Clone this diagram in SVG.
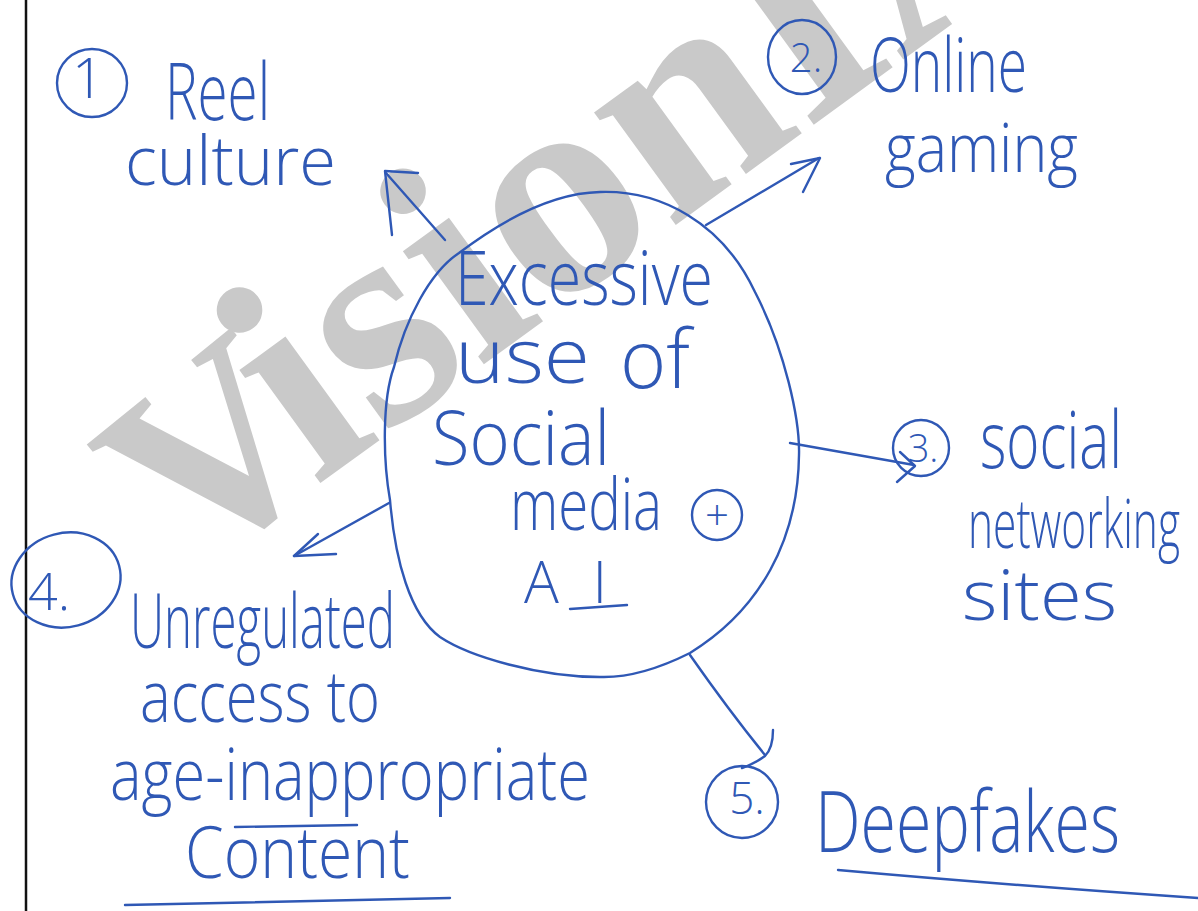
<svg xmlns="http://www.w3.org/2000/svg" width="1198" height="911" viewBox="0 0 1198 911">
<style>
.ink{fill:none;stroke:#2f58b5;stroke-width:2.4;stroke-linecap:round;stroke-linejoin:round}
.t{font-family:"Open Sans","Liberation Sans","DejaVu Sans",sans-serif;font-weight:300;fill:#2f58b5}
.num{font-family:"Open Sans","Liberation Sans","DejaVu Sans",sans-serif;font-weight:300;fill:#2f58b5;text-anchor:middle}
.wm{font-family:"Liberation Serif","DejaVu Serif",serif;font-weight:bold;fill:#c9c9c9}
</style>
<rect width="1198" height="911" fill="#ffffff"/>
<g id="watermark">
<text class="wm" font-size="265" text-anchor="middle" transform="translate(268,521) rotate(-39)">V</text>
<text class="wm" font-size="303" transform="translate(315,487) rotate(-36)">isionIAS</text>
</g>
<line x1="26" y1="0" x2="26" y2="911" stroke="#111" stroke-width="2.5"/>
<g id="center">
<path class="ink" d="M600,192 C660,190 722,222 755,292 C785,350 800,420 799,455 C798,540 760,610 690,653 C660,668 630,678 600,677 C540,677 470,657 440,637 C410,615 395,560 390,500 C383,460 382,400 394,367 C405,320 430,272 459,253 C500,222 550,193 600,192 Z"/>
<text class="t" x="455" y="305" font-size="76" textLength="258" lengthAdjust="spacingAndGlyphs">Excessive</text>
<text class="t" x="455" y="383" font-size="76" textLength="135" lengthAdjust="spacingAndGlyphs">use</text>
<text class="t" x="620" y="388" font-size="82" textLength="70" lengthAdjust="spacingAndGlyphs">of</text>
<text class="t" x="432" y="465" font-size="76" textLength="178" lengthAdjust="spacingAndGlyphs">Social</text>
<text class="t" x="510" y="530" font-size="72" textLength="152" lengthAdjust="spacingAndGlyphs">media</text>
<circle class="ink" cx="717" cy="515" r="25"/>
<text class="num" x="717" y="530" font-size="42">+</text>
<text class="t" x="524" y="603" font-size="58" textLength="83" lengthAdjust="spacing">AI</text>
<line class="ink" x1="570" y1="609" x2="627" y2="605"/>
</g>
<g id="node1">
<ellipse class="ink" cx="92" cy="83" rx="35" ry="34"/>
<text class="num" x="88" y="98" font-size="56">1</text>
<text class="t" x="165" y="120" font-size="80" textLength="105" lengthAdjust="spacingAndGlyphs">Reel</text>
<text class="t" x="125" y="185" font-size="68" textLength="211" lengthAdjust="spacingAndGlyphs">culture</text>
</g>
<g id="node2">
<ellipse class="ink" cx="802" cy="57" rx="34" ry="37"/>
<text class="num" x="806" y="72" font-size="40">2.</text>
<text class="t" x="870" y="92" font-size="76" textLength="157" lengthAdjust="spacingAndGlyphs">Online</text>
<text class="t" x="885" y="172" font-size="68" textLength="193" lengthAdjust="spacingAndGlyphs">gaming</text>
</g>
<g id="node3">
<circle class="ink" cx="921" cy="448" r="28"/>
<text class="num" x="923" y="462" font-size="38">3.</text>
<text class="t" x="980" y="468" font-size="80" textLength="142" lengthAdjust="spacingAndGlyphs">social</text>
<text class="t" x="968" y="548" font-size="68" textLength="212" lengthAdjust="spacingAndGlyphs">networking</text>
<text class="t" x="962" y="620" font-size="70" textLength="155" lengthAdjust="spacingAndGlyphs">sites</text>
</g>
<g id="node4">
<ellipse class="ink" cx="66" cy="580" rx="55" ry="47" transform="rotate(-15 66 580)"/>
<text class="t" x="28" y="610" font-size="52">4.</text>
<text class="t" x="130" y="648" font-size="76" textLength="265" lengthAdjust="spacingAndGlyphs">Unregulated</text>
<text class="t" x="140" y="722" font-size="72" textLength="240" lengthAdjust="spacingAndGlyphs">access to</text>
<text class="t" x="110" y="800" font-size="72" textLength="480" lengthAdjust="spacingAndGlyphs">age-inappropriate</text>
<line class="ink" x1="235" y1="827" x2="357" y2="825"/>
<text class="t" x="185" y="878" font-size="72" textLength="225" lengthAdjust="spacingAndGlyphs">Content</text>
<line class="ink" x1="125" y1="905" x2="450" y2="898"/>
</g>
<g id="node5">
<circle class="ink" cx="742" cy="802" r="36"/>
<text class="num" x="747" y="814" font-size="44">5.</text>
<text class="t" x="815" y="852" font-size="84" textLength="305" lengthAdjust="spacingAndGlyphs">Deepfakes</text>
<path class="ink" d="M838,870 C950,880 1080,890 1198,898"/>
</g>
<g id="connectors">
<path class="ink" d="M445,240 L386,173"/>
<path class="ink" d="M418,173 L385,171 L392,235"/>
<path class="ink" d="M706,225 L819,158"/>
<path class="ink" d="M791,164 L820,158 L803,192"/>
<path class="ink" d="M790,443 L914,465"/>
<path class="ink" d="M900,452 L915,466 L897,482"/>
<path class="ink" d="M389,503 L294,556"/>
<path class="ink" d="M318,534 L294,556 L336,554"/>
<path class="ink" d="M690,655 Q730,712 765,755"/>
<path class="ink" d="M773,730 Q773,748 765,756 Q754,764 742,768"/>
</g>
</svg>
